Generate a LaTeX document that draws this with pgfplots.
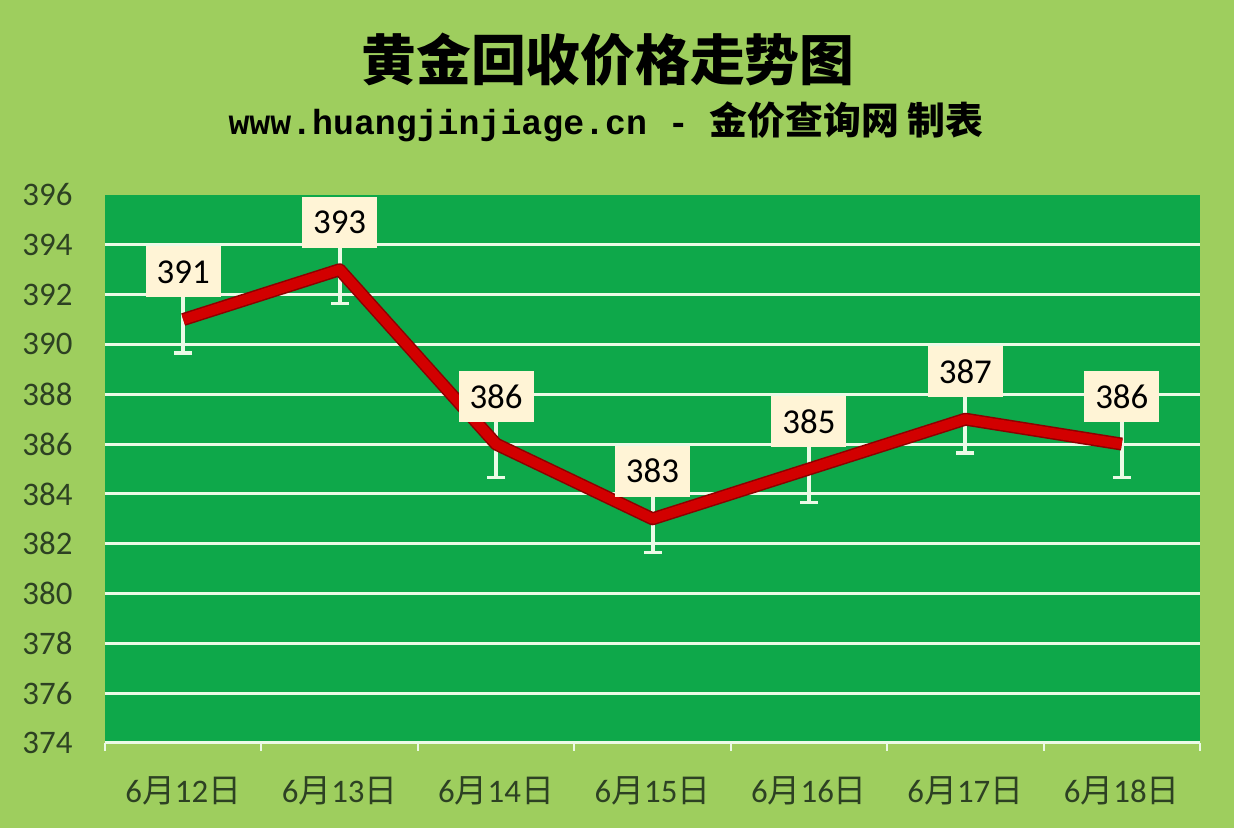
\documentclass[border=0pt]{standalone}
\usepackage{fontspec}
\setmainfont{Carlito}
\newfontfamily\cjk{Noto Sans CJK SC}
\newfontfamily\urlfont{Liberation Mono}
\usepackage{pgfplots}
\usepackage{pgfplotstable}
\pgfplotsset{compat=1.18}

\definecolor{outerbg}{RGB}{158,206,94}
\definecolor{plotbg}{RGB}{14,168,74}
\definecolor{linered}{RGB}{210,0,0}
\definecolor{lineedge}{RGB}{140,0,0}
\definecolor{labelbg}{RGB}{255,244,214}
\definecolor{tickcol}{RGB}{45,65,35}
\definecolor{gridcol}{RGB}{235,250,230}

% gold recycling price, yuan per gram
\pgfplotstableread{
x   y
0.5 391
1.5 393
2.5 386
3.5 383
4.5 385
5.5 387
6.5 386
}\pricedata

\begin{document}
\begin{tikzpicture}[x=1bp,y=1bp]
\fill[outerbg] (0,0) rectangle (1234,828);
\path[use as bounding box] (0,0) rectangle (1234,828);
\node[font=\cjk\bfseries\fontsize{55}{60}\selectfont] at (608,768) {黄金回收价格走势图};
\node[font=\bfseries] at (606,706)
  {{\urlfont\fontsize{35}{40}\selectfont www.huangjinjiage.cn - }{\cjk\fontsize{38}{40}\selectfont 金价查询网\ 制表}};
\begin{axis}[
  at={(105bp,85bp)}, anchor=south west,
  scale only axis, width=1095bp, height=548bp,
  xmin=0, xmax=7, ymin=374, ymax=396,
  axis background/.style={fill=plotbg},
  axis line style={draw=none},
  clip=false,
  /pgf/number format/assume math mode=true,
  xtick={0.5,1.5,...,6.5},
  xticklabels={6{\cjk 月}12{\cjk 日},6{\cjk 月}13{\cjk 日},6{\cjk 月}14{\cjk 日},6{\cjk 月}15{\cjk 日},6{\cjk 月}16{\cjk 日},6{\cjk 月}17{\cjk 日},6{\cjk 月}18{\cjk 日}},
  minor xtick={0,1,...,7},
  xtick pos=left, ytick pos=left,
  tick align=outside,
  major tick length=0pt,
  minor tick length=8bp,
  minor tick style={gridcol, line width=2bp},
  ytick={374,376,...,394},
  extra y ticks={396},
  extra y tick style={grid=none},
  ymajorgrids,
  grid style={gridcol, line width=3bp},
  ticklabel style={font=\fontsize{33}{40}\selectfont, text=tickcol},
  yticklabel style={xshift=-29bp},
  xticklabel style={yshift=-30bp},
]
\addplot[draw=none, mark=none,
  error bars/.cd, y dir=both, y fixed=1.35, error mark=-,
  error bar style={gridcol, line width=4bp},
  error mark options={gridcol, line width=3.5bp, mark size=9bp, rotate=90}]
  table {\pricedata};
\addplot[lineedge, line width=13bp, line join=round, mark=none] table {\pricedata};
\addplot[linered, line width=10bp, line join=round, mark=none] table {\pricedata};
\addplot[draw=none, mark=none, point meta=explicit,
  nodes near coords,
  nodes near coords style={anchor=south, yshift=22bp, fill=labelbg, text=black,
    inner sep=0pt, minimum width=75bp, minimum height=51bp,
    font=\fontsize{35}{40}\selectfont}]
  table[meta=y] {\pricedata};
\end{axis}
\end{tikzpicture}
\end{document}
